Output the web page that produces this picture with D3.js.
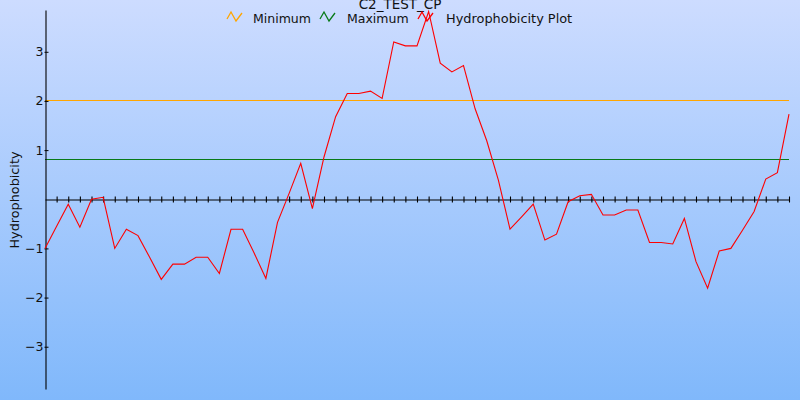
<!DOCTYPE html>
<html><head><meta charset="utf-8">
<script src="https://cdn.jsdelivr.net/npm/d3@7"></script>
<style>html,body{margin:0;padding:0;overflow:hidden;}svg{display:block;}</style>
</head><body>
<script>
const title = "C2_TEST_CP";
const yLabel = "Hydrophobicity";
const seriesNames = ["Minimum", "Maximum", "Hydrophobicity Plot"];
const seriesColors = ["#ffa500", "#087a18", "#ff0000"];
const minimumValue = 2.0;
const maximumValue = 0.8;
const yTicks = [-3, -2, -1, 1, 2, 3];
const hydro = [-1.0, -0.55, -0.1, -0.57, 0.0, 0.04, -1.0, -0.61, -0.74, -1.18,
  -1.63, -1.32, -1.32, -1.18, -1.18, -1.51, -0.61, -0.61, -1.1, -1.61,
  -0.47, 0.12, 0.73, -0.19, 0.86, 1.68, 2.15, 2.15, 2.2, 2.05,
  3.2, 3.12, 3.12, 3.82, 2.77, 2.59, 2.72, 1.84, 1.19, 0.39,
  -0.61, -0.36, -0.1, -0.83, -0.71, -0.05, 0.07, 0.1, -0.32, -0.32,
  -0.22, -0.22, -0.88, -0.88, -0.91, -0.39, -1.27, -1.81, -1.05, -1.0,
  -0.63, -0.25, 0.41, 0.54, 1.73];

const W = 800, H = 400;
const svg = d3.select("body").append("svg").attr("width", W).attr("height", H);
const defs = svg.append("defs");
const grad = defs.append("linearGradient").attr("id","bg").attr("x1",0).attr("y1",0).attr("x2",0).attr("y2",1);
grad.append("stop").attr("offset","0%").attr("stop-color","#cddcff");
grad.append("stop").attr("offset","100%").attr("stop-color","#80b8fb");
svg.append("rect").attr("width",W).attr("height",H).attr("fill","url(#bg)");

const font = "DejaVu Sans, Verdana, sans-serif";
const x = d3.scaleLinear().domain([0, hydro.length - 1]).range([45, 789]);
const y = d3.scaleLinear().domain([-3.86, 3.85]).range([389, 10]);
const py = v => Math.floor(y(v)) + 0.5;

// reference lines
svg.append("line").attr("x1",45).attr("x2",789).attr("y1",py(minimumValue)).attr("y2",py(minimumValue))
  .attr("stroke",seriesColors[0]).attr("stroke-width",1.6).attr("shape-rendering","crispEdges");
svg.append("line").attr("x1",45).attr("x2",789).attr("y1",py(maximumValue)).attr("y2",py(maximumValue))
  .attr("stroke",seriesColors[1]).attr("stroke-width",1.6).attr("shape-rendering","crispEdges");

// x axis at zero with cross ticks
const zy = py(0);
const xAxis = d3.axisBottom(x).tickValues(d3.range(1, hydro.length)).tickFormat("").tickSizeInner(2.5).tickSizeOuter(0);
const gx = svg.append("g").attr("transform",`translate(0,${zy})`).call(xAxis);
gx.select(".domain").attr("stroke","#000").attr("stroke-width",1.1);
gx.selectAll(".tick line").attr("y1",-3).attr("y2",3).attr("stroke","#000").attr("stroke-width",1.1);

// y axis
const yAxis = d3.axisLeft(y).tickValues(yTicks).tickFormat(d3.format("d")).tickSizeInner(-3).tickSizeOuter(0).tickPadding(4);
const gy = svg.append("g").attr("transform","translate(45.5,0)").call(yAxis);
gy.select(".domain").attr("stroke","#000").attr("stroke-width",1.1);
gy.selectAll(".tick line").attr("x1",-1).attr("x2",3).attr("stroke","#000");
gy.selectAll(".tick text").attr("font-family",font).attr("font-size",12.5).attr("fill","#111").attr("x",-2);

// data line
const line = d3.line().x((d,i)=>x(i)).y(d=>y(d));
svg.append("path").datum(hydro).attr("d",line).attr("fill","none").attr("stroke",seriesColors[2]).attr("stroke-width",1.1);

// y label
svg.append("text").attr("transform","translate(19,200) rotate(-90)").attr("text-anchor","middle")
  .attr("font-family",font).attr("font-size",12.8).attr("fill","#111").text(yLabel);

// title
svg.append("text").attr("x",400).attr("y",9).attr("text-anchor","middle").attr("font-family",font)
  .attr("font-size",13.5).attr("fill","#111").text(title);

// legend
const legX = [227, 320, 418];
const textX = [253, 347, 446];
const textSize = [12.5, 12.5, 12.9];
seriesNames.forEach((n,i)=>{
  const x0 = legX[i];
  svg.append("polyline").attr("points",`${x0},19 ${x0+4},12 ${x0+9},21 ${x0+15},13`)
    .attr("fill","none").attr("stroke",seriesColors[i]).attr("stroke-width",1.3);
  svg.append("text").attr("x",textX[i]).attr("y",22.5).attr("font-family",font).attr("font-size",textSize[i])
    .attr("fill","#111").text(n);
});
</script>
</body></html>
